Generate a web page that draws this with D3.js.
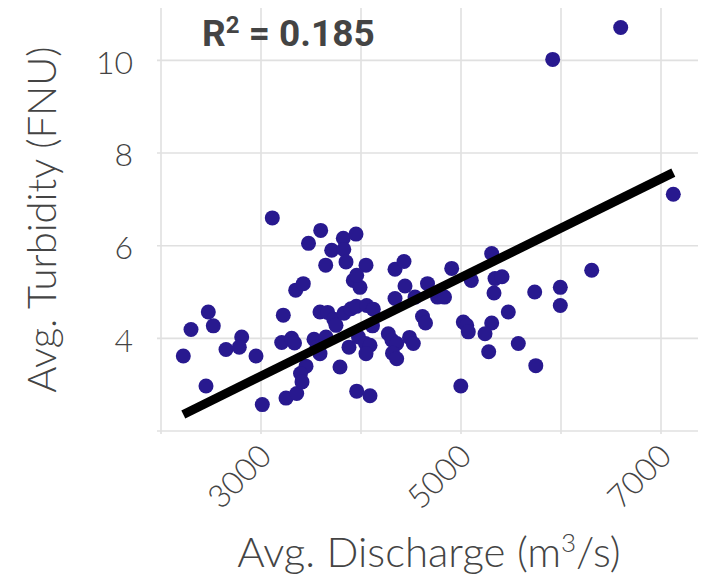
<!DOCTYPE html>
<html>
<head>
<meta charset="utf-8">
<script src="https://cdn.jsdelivr.net/npm/d3@7"></script>
<style>
body { margin: 0; background: #fff; }
svg { display: block; }
</style>
</head>
<body>
<div id="chart"></div>
<script>
// values
var discharge = [2223, 2300, 2473, 2523, 2650, 2807, 2783, 2950, 2450, 3013,
	3250, 3357, 3223, 3207, 3307, 3335, 3347, 3423, 3113, 3475,
	3597, 3707, 3823, 3950, 3828, 3850, 3647, 4050, 3923, 3990,
	3957, 3590, 3667, 3728, 3750, 3830, 3900, 3953, 4057, 4123,
	4115, 3530, 3650, 3560, 3590, 3450, 3395, 3410, 3790, 3880,
	3975, 4045, 4090, 4050, 3957, 4090, 4273, 4310, 4357, 4315,
	4357, 4485, 4523, 4340, 4430, 4440, 4340, 4665, 4907, 4765,
	4835, 4540, 4615, 4645, 5307, 5103, 5340, 5410, 5330, 5737,
	5993, 5993, 6307, 5473, 5023, 5057, 5073, 5307, 5240, 5573,
	5277, 5748, 4998, 5917, 6597, 7123];
var turbidity = [3.62, 4.19, 4.57, 4.27, 3.76, 4.03, 3.81, 3.62, 2.97, 2.57,
	2.71, 2.81, 4.50, 3.91, 4.00, 3.90, 5.04, 5.18, 6.60, 6.05,
	6.33, 5.90, 6.16, 6.25, 5.92, 5.65, 5.58, 5.58, 5.25, 5.10,
	5.36, 4.57, 4.56, 4.41, 4.28, 4.54, 4.64, 4.69, 4.71, 4.63,
	4.27, 3.98, 4.03, 3.81, 3.67, 3.40, 3.24, 3.06, 3.38, 3.81,
	4.03, 3.89, 3.85, 3.67, 2.86, 2.76, 4.10, 3.96, 3.89, 3.68,
	3.56, 4.02, 3.89, 5.49, 5.66, 5.13, 4.86, 5.18, 5.51, 4.89,
	4.89, 4.89, 4.47, 4.33, 5.83, 5.25, 5.29, 5.33, 4.98, 5.00,
	5.10, 4.71, 5.47, 4.57, 4.35, 4.28, 4.14, 4.33, 4.10, 3.89,
	3.71, 3.41, 2.97, 10.02, 10.71, 7.11];

var xBreaks = [2000, 3000, 4000, 5000, 6000, 7000];
var xLabels = [3000, 5000, 7000];
var yBreaks = [2, 4, 6, 8, 10];
var yLabels = [4, 6, 8, 10];

// fitted line
var fitSlope = 0.001065;
var fitIntercept = -0.01;
var r2Text = "0.185";

var width = 715, height = 576;
var margin = {top: 8, right: 17, bottom: 145, left: 160};

var svg = d3.select("#chart")
			.append("svg")
			.attr("width", width)
			.attr("height", height);

var x = d3.scaleLinear()
		.domain([2000, 7370])
		.range([margin.left + 1, width - margin.right]);
var y = d3.scaleLinear()
		.domain([2, 11.13])
		.range([height - margin.bottom, margin.top]);

var gridColour = "#e0e0e0";
var textColour = "#444444";
var font = "Lato, 'Open Sans', sans-serif";

// grid
svg.append("g")
   .selectAll("line")
   .data(yBreaks)
   .enter()
   .append("line")
   .attr("x1", margin.left - 3)
   .attr("x2", width - margin.right)
   .attr("y1", function (d) { return y(d); })
   .attr("y2", function (d) { return y(d); })
   .attr("stroke", gridColour)
   .attr("stroke-width", 1.6);

svg.append("g")
   .selectAll("line")
   .data(xBreaks)
   .enter()
   .append("line")
   .attr("x1", function (d) { return x(d); })
   .attr("x2", function (d) { return x(d); })
   .attr("y1", margin.top)
   .attr("y2", height - margin.bottom + 3)
   .attr("stroke", gridColour)
   .attr("stroke-width", 1.6);

// axes (labels only, lines are the grid above)
var yAxis = d3.axisLeft(y)
			.tickValues(yLabels)
			.tickSize(0)
			.tickPadding(27)
			.tickFormat(d3.format("d"));
var gy = svg.append("g")
	   .attr("transform", "translate(" + margin.left + ",0)")
	   .call(yAxis);

var xAxis = d3.axisBottom(x)
			.tickValues(xLabels)
			.tickSize(0)
			.tickFormat(d3.format("d"));
var gx = svg.append("g")
	   .attr("transform", "translate(0," + (height - margin.bottom) + ")")
	   .call(xAxis);

gx.selectAll("text")
  .attr("y", null)
  .attr("dy", null)
  .attr("text-anchor", "end")
  .attr("transform", "translate(12,27) rotate(-45)");

[gx, gy].forEach(function (g) {
	g.select(".domain").remove();
	g.selectAll("text")
	 .attr("fill", textColour)
	 .style("font-family", font)
	 .style("font-weight", 300)
	 .style("font-size", "32px");
});
gy.selectAll("text").attr("dy", "0.4em");

// points
svg.append("g")
   .selectAll("circle")
   .data(d3.range(discharge.length))
   .enter()
   .append("circle")
   .attr("cx", function (i) { return x(discharge[i]); })
   .attr("cy", function (i) { return y(turbidity[i]); })
   .attr("r", 7.5)
   .attr("fill", "#28198f");

// regression line over the data range
var xr = d3.extent(discharge);
svg.append("line")
   .attr("x1", x(xr[0]))
   .attr("y1", y(fitIntercept + fitSlope * xr[0]))
   .attr("x2", x(xr[1]))
   .attr("y2", y(fitIntercept + fitSlope * xr[1]))
   .attr("stroke", "#000")
   .attr("stroke-width", 9);

// R squared
var r2 = svg.append("text")
	.attr("x", 202)
	.attr("y", 46)
	.attr("fill", textColour)
	.style("font-family", "Roboto, sans-serif")
	.style("font-weight", 700)
	.style("font-size", "37px");
r2.append("tspan").text("R");
r2.append("tspan").attr("dy", -13).style("font-size", "24px").text("2");
r2.append("tspan").attr("dy", 13).text(" = " + r2Text);

// axis titles
var xt = svg.append("text")
	.attr("x", (margin.left + width - margin.right) / 2)
	.attr("y", 567)
	.attr("text-anchor", "middle")
	.attr("fill", textColour)
	.style("font-family", font)
	.style("font-weight", 300)
	.style("font-size", "42px");
xt.append("tspan").text("Avg. Discharge (m");
xt.append("tspan").attr("dy", -15).style("font-size", "26px").text("3");
xt.append("tspan").attr("dy", 15).text("/s)");

svg.append("text")
   .attr("transform", "translate(56," + ((margin.top + height - margin.bottom) / 2) + ") rotate(-90)")
   .attr("text-anchor", "middle")
   .attr("fill", textColour)
   .style("font-family", font)
   .style("font-weight", 300)
   .style("font-size", "40px")
   .text("Avg. Turbidity (FNU)");
</script>
</body>
</html>
